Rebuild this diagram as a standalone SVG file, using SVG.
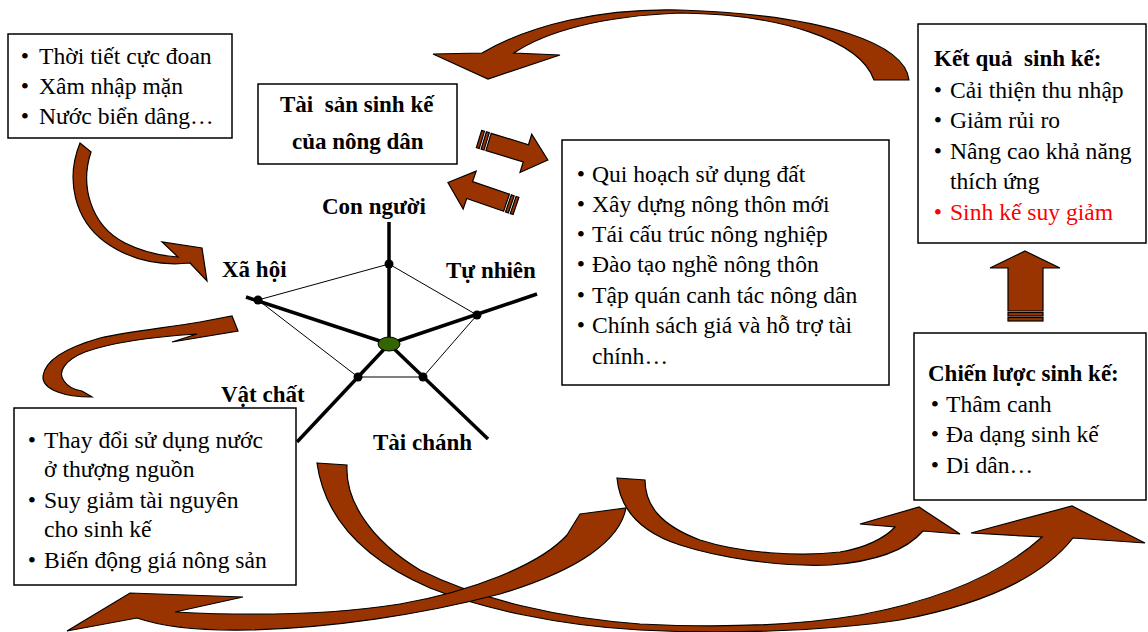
<svg xmlns="http://www.w3.org/2000/svg" width="1148" height="632" viewBox="0 0 1148 632">
<style>
.t{font-family:"Liberation Serif","Times New Roman",serif;font-size:23.6px;fill:#000}
.b{font-weight:bold;font-size:23px}
.bu{text-anchor:middle}
.box{fill:#fff;stroke:#000;stroke-width:1.5}
.arr{fill:#993300;stroke:#000;stroke-width:1.2;stroke-linejoin:miter}
.spoke{stroke:#000;stroke-width:3.5;fill:none}
.thin{stroke:#000;stroke-width:1;fill:none}
.red{fill:#ff0000}
</style>
<defs>
<g id="stripedArrow">
<rect class="arr" x="0" y="-9" width="3" height="18"/>
<rect class="arr" x="5" y="-9" width="3" height="18"/>
<path class="arr" d="M10,-9 L49,-9 L49,-20 L72,0 L49,20 L49,9 L10,9 Z"/>
</g>
</defs>
<rect width="1148" height="632" fill="#fff"/>

<g id="connectors">
<path class="arr" d="M909,80 C905,45 830,15 680,10 C600,8 530,25 482,53 L433,54 L488,79 L560,55 L514,53 C545,32 600,16 680,13 C780,14 860,40 874,80 Z"/>
<use href="#stripedArrow" transform="translate(479,139) rotate(17)"/>
<use href="#stripedArrow" transform="translate(516,206) rotate(199)"/>
<path class="arr" d="M80,143 L91,152 C80,185 90,225 125,243 C145,253 162,256 178,257 L162,242 L202,248 L207,281 L190,263 C160,266 130,260 105,242 C75,220 65,180 80,143 Z"/>
<path class="arr" d="M92,397 C65,397 42,390 43,376 C45,360 65,348 100,338 C130,331 165,328 200,322 L232,316 L238,331 L172,342 L197,334 C150,337 110,343 85,352 C65,360 57,372 64,381 C68,387 75,390 82,391 Z"/>
<path class="arr" d="M1025,251 L1060,268 L1043,268 L1043,311 L1008,311 L1008,268 L990,268 Z"/>
<rect class="arr" x="1008" y="312.5" width="35" height="3.5"/>
<rect class="arr" x="1008" y="317.5" width="35" height="3.5"/>
<path class="arr" d="M317,463 L347,465 C345,500 370,540 420,570 C480,600 560,618 640,624 C720,628 800,625 860,615 C940,600 1000,575 1042,537 L971,533 L1072,506 L1145,543 L1073,538 C1040,580 980,605 900,620 C820,632 720,634 640,630 C560,626 480,608 430,588 C370,562 325,522 317,463 Z"/>
<path class="arr" d="M617,478 L645,480 C645,505 660,525 700,540 C740,553 800,557 840,552 C865,548 885,538 895,527 L860,524 L919,507 L960,534 L923,531 C905,552 870,562 830,565 C780,567 720,558 680,545 C640,532 620,510 617,478 Z"/>
<path class="arr" d="M580,514 L626,508 C620,540 580,570 500,594 C420,615 330,628 250,630 C200,631 160,626 137,618 L67,631 L130,593 L243,597 L175,612 C250,616 330,615 400,604 C470,592 540,565 567,535 Z"/>
</g>

<g id="pentagon">
<line class="spoke" x1="389" y1="344" x2="389" y2="222"/>
<line class="spoke" x1="389" y1="344" x2="246" y2="297"/>
<line class="spoke" x1="389" y1="344" x2="537" y2="294"/>
<line class="spoke" x1="389" y1="344" x2="297" y2="442"/>
<line class="spoke" x1="389" y1="344" x2="488" y2="439"/>
<polygon class="thin" points="389,264 477,315 423,377 358,377 258,300"/>
<circle cx="389" cy="264" r="4.5"/>
<circle cx="477" cy="315" r="4.5"/>
<circle cx="423" cy="377" r="4.5"/>
<circle cx="358" cy="377" r="4.5"/>
<circle cx="258" cy="300" r="4.5"/>
<ellipse cx="389" cy="344" rx="11" ry="7" fill="#336600" stroke="#000" stroke-width="1"/>
</g>

<g id="label-con-nguoi"><text class="t b" x="322" y="214">Con người</text></g>
<g id="label-xa-hoi"><text class="t b" x="222" y="277">Xã hội</text></g>
<g id="label-tu-nhien"><text class="t b" x="446" y="278">Tự nhiên</text></g>
<g id="label-vat-chat"><text class="t b" x="221" y="402">Vật chất</text></g>
<g id="label-tai-chanh"><text class="t b" x="373" y="450">Tài chánh</text></g>

<g id="box-risks">
<rect class="box" x="8" y="34" width="224" height="104"/>
<text class="t bu" x="25" y="64">•</text><text class="t" x="39" y="64">Thời tiết cực đoan</text>
<text class="t bu" x="25" y="94">•</text><text class="t" x="39" y="94">Xâm nhập mặn</text>
<text class="t bu" x="25" y="124">•</text><text class="t" x="39" y="124">Nước biển dâng…</text>
</g>

<g id="box-assets">
<rect class="box" x="258" y="84" width="199" height="80"/>
<text class="t b" x="280" y="112" xml:space="preserve">Tài  sản sinh kế</text>
<text class="t b" x="292" y="149">của nông dân</text>
</g>

<g id="box-policies">
<rect class="box" x="562" y="140" width="327" height="245"/>
<text class="t bu" x="581" y="182">•</text><text class="t" x="592" y="182">Qui hoạch sử dụng đất</text>
<text class="t bu" x="581" y="212">•</text><text class="t" x="592" y="212">Xây dựng nông thôn mới</text>
<text class="t bu" x="581" y="242">•</text><text class="t" x="592" y="242">Tái cấu trúc nông nghiệp</text>
<text class="t bu" x="581" y="272">•</text><text class="t" x="592" y="272">Đào tạo nghề nông thôn</text>
<text class="t bu" x="581" y="303">•</text><text class="t" x="592" y="303">Tập quán canh tác nông dân</text>
<text class="t bu" x="581" y="333">•</text><text class="t" x="592" y="333">Chính sách giá và hỗ trợ tài</text>
<text class="t" x="592" y="364">chính…</text>
</g>

<g id="box-outcomes">
<rect class="box" x="918" y="24" width="228" height="219"/>
<text class="t b" x="934" y="66" xml:space="preserve">Kết quả  sinh kế:</text>
<text class="t bu" x="938" y="98">•</text><text class="t" x="950" y="98">Cải thiện thu nhập</text>
<text class="t bu" x="938" y="128">•</text><text class="t" x="950" y="128">Giảm rủi ro</text>
<text class="t bu" x="938" y="159">•</text><text class="t" x="950" y="159">Nâng cao khả năng</text>
<text class="t" x="950" y="189">thích ứng</text>
<text class="t bu red" x="938" y="220">•</text><text class="t red" x="950" y="220">Sinh kế suy giảm</text>
</g>

<g id="box-strategies">
<rect class="box" x="914" y="333" width="232" height="167"/>
<text class="t b" x="928" y="381">Chiến lược sinh kế:</text>
<text class="t bu" x="935" y="412">•</text><text class="t" x="946" y="412">Thâm canh</text>
<text class="t bu" x="935" y="442">•</text><text class="t" x="946" y="442">Đa dạng sinh kế</text>
<text class="t bu" x="935" y="473">•</text><text class="t" x="946" y="473">Di dân…</text>
</g>

<g id="box-external">
<rect class="box" x="14" y="408" width="282" height="177"/>
<text class="t bu" x="32" y="448">•</text><text class="t" x="44" y="448">Thay đổi sử dụng nước</text>
<text class="t" x="44" y="477">ở thượng nguồn</text>
<text class="t bu" x="32" y="508">•</text><text class="t" x="44" y="508">Suy giảm tài nguyên</text>
<text class="t" x="44" y="537">cho sinh kế</text>
<text class="t bu" x="32" y="568">•</text><text class="t" x="44" y="568">Biến động giá nông sản</text>
</g>
</svg>
